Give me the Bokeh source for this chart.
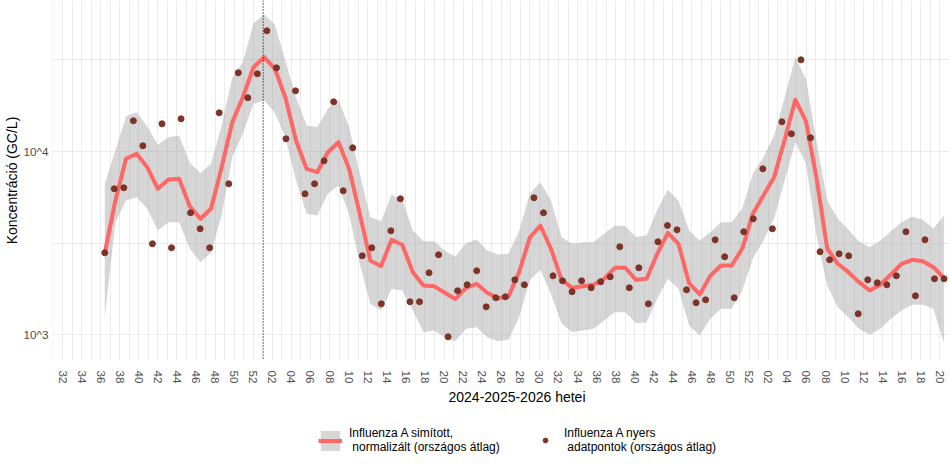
import math
import numpy as np
from bokeh.plotting import figure
from bokeh.layouts import column
from bokeh.models import FixedTicker, Legend, LegendItem, Span, Title, Range1d
from bokeh.embed import file_html
from bokeh.resources import INLINE

# ---------------- data ----------------
# x tick labels (ISO weeks, every 2nd week from 2024-W32 to 2026-W20)
tick_labels = ["32", "34", "36", "38", "40", "42", "44", "46", "48", "50", "52",
               "02", "04", "06", "08", "10", "12", "14", "16", "18", "20", "22", "24", "26",
               "28", "30", "32", "34", "36", "38", "40", "42", "44", "46", "48", "50", "52",
               "02", "04", "06", "08", "10", "12", "14", "16", "18", "20"]

# raw weekly measurements (GC/L), from 2024-W36 to 2026-W20
raw_values = [2801, 6259, 6339, 14710, 10742, 3137, 14164, 2983, 15080, 4630,
              3786, 2983, 16260, 6664, 26880, 19640, 26540, 45540, 28610, 11730,
              21440, 5876, 6664, 8898, 18670, 6104, 10476, 2698, 2983, 1476,
              3693, 5521, 1514, 1514, 2179, 2732, 975, 1738, 1874, 2235,
              1421, 1592, 1612, 1995, 1874, 5590, 4630, 2098, 1970, 1717,
              1970, 1805, 1946, 2072, 3020, 1805, 2320, 1476, 3217, 3947,
              3740, 1760, 1495, 1552, 3298, 2665, 1592, 3647, 4294, 8044,
              3786, 14520, 12490, 31650, 11880, 2837, 2566, 2766, 2698, 1302,
              1995, 1922, 1874, 2098, 3647, 1632, 3298, 2021, 2021]

# smoothed curve (80 evaluation points) with confidence band
smooth_values = [2801, 5404, 9125, 9716, 8210, 6259, 7036, 7099, 5030, 4294,
                 4868, 8210, 14450, 19790, 28830, 32690, 28360, 19710, 11480, 8044,
                 7709, 9913, 11240, 8044, 4572, 2543, 2367, 3298, 3097, 2196,
                 1858, 1842, 1695, 1568, 1805, 1897, 1695, 1584, 1618, 2196,
                 3382, 3947, 2946, 1995, 1805, 1842, 1874, 2021, 2320, 2320,
                 1995, 2021, 2766, 3602, 3137, 1912, 1659, 2098, 2388, 2388,
                 2946, 4572, 5754, 7240, 11580, 19150, 14630, 7124, 2957, 2440,
                 2196, 1936, 1745, 1874, 2133, 2440, 2566, 2520, 2338, 2036]

upper_values = [6664, 10130, 15520, 16390, 13690, 10880, 11970, 12230, 8678, 7612,
                8569, 13860, 25240, 30700, 50120, 55890, 49310, 31370, 19790, 13860,
                13570, 17100, 19150, 13570, 7554, 4382, 4166, 5805, 5452, 3707,
                3240, 3240, 2883, 2665, 3160, 3311, 2883, 2742, 2766, 3675,
                5876, 6799, 5404, 3408, 3137, 3201, 3201, 3556, 3947, 3913,
                3424, 3480, 4807, 6182, 5404, 3707, 3269, 3628, 4115, 4115,
                4868, 7554, 9309, 12230, 19790, 32690, 24920, 11340, 5404, 4294,
                3740, 3240, 3005, 3269, 3675, 4115, 4420, 4241, 3786, 4475]

lower_values = [1247, 4100, 5404, 5632, 4868, 3707, 4115, 4115, 2946, 2489,
                2801, 4475, 9309, 12490, 18210, 18980, 16320, 11970, 6949, 4572,
                4475, 5876, 6523, 4572, 2440, 1476, 1357, 1782, 1745, 1357,
                1033, 1056, 970, 923, 1078, 1100, 970, 923, 939, 1247,
                1978, 2263, 1674, 1148, 1033, 1056, 1078, 1197, 1328, 1328,
                1157, 1171, 1572, 2021, 1782, 1124, 991, 1223, 1386, 1386,
                1745, 2598, 3269, 4294, 6949, 11240, 8569, 3480, 1858, 1414,
                1247, 1078, 1000, 1078, 1223, 1357, 1458, 1458, 1386, 900]

# x axis: week index, 0 = 2024-W32 (Monday)
first_point_week = 4          # 2024-W36
day_offset = 3 / 7            # samples plotted mid-week
season_marker = 21.05         # turn of the year (dotted line)

series_labels = ["Influenza A simított,\n normalizált (országos átlag)",
                 "Influenza A nyers\n adatpontok (országos átlag)"]

# ---------------- positions ----------------
tick_positions = list(range(0, 2 * len(tick_labels), 2))
point_x = [first_point_week + day_offset + k for k in range(len(raw_values))]
smooth_x = list(np.linspace(point_x[0], point_x[-1], len(smooth_values)))

FONT = "Liberation Sans"
BAND = dict(fill_color="#999999", fill_alpha=0.4)
LINE = dict(line_color="#FF6666", line_width=4)
PTS = dict(fill_color="#7E3328", line_color="#7E3328")

p = figure(width=949, height=410, output_backend="svg", toolbar_location=None,
           y_axis_type="log",
           x_range=Range1d(-1.05, 93.0), y_range=Range1d(724, 66650),
           min_border_left=52, min_border_right=0, min_border_top=0,
           min_border_bottom=50)
p.outline_line_color = None
p.background_fill_color = "white"
p.border_fill_color = "white"

# grid
p.xgrid.ticker = FixedTicker(ticks=list(range(-1, 94)))
p.ygrid.ticker = FixedTicker(ticks=[10 ** 3, 10 ** 3.5, 10 ** 4, 10 ** 4.5])
for g in (p.xgrid, p.ygrid):
    g.grid_line_color = "#EBEBEB"
    g.grid_line_width = 1

# glyphs
p.varea(x=smooth_x, y1=lower_values, y2=upper_values, **BAND)
p.line(smooth_x, smooth_values, line_join="round", line_cap="round", **LINE)
p.scatter(point_x, raw_values, size=6, **PTS)

p.add_layout(Span(location=season_marker, dimension="height",
                  line_color="black", line_width=1, line_dash="1 2"))

# axes
xa = p.xaxis[0]
xa.ticker = FixedTicker(ticks=tick_positions)
xa.major_label_overrides = {t: l for t, l in zip(tick_positions, tick_labels)}
xa.major_label_orientation = -math.pi / 2
xa.major_label_standoff = 10
xa.major_label_text_font = FONT
xa.major_label_text_font_size = "11.7px"
xa.major_label_text_color = "#4D4D4D"
xa.major_tick_line_color = None
xa.minor_tick_line_color = None
xa.major_tick_out = 0
xa.major_tick_in = 0
xa.minor_tick_out = 0
xa.axis_line_color = None

ya = p.yaxis[0]
ya.ticker = FixedTicker(ticks=[1000, 10000])
ya.major_label_overrides = {1000: "10^3", 10000: "10^4"}
ya.major_label_standoff = 4
ya.major_label_text_font = FONT
ya.major_label_text_font_size = "11.7px"
ya.major_label_text_color = "#4D4D4D"
ya.major_tick_line_color = None
ya.minor_tick_line_color = None
ya.major_tick_out = 0
ya.major_tick_in = 0
ya.minor_tick_out = 0
ya.axis_line_color = None
ya.axis_label = "Koncentráció (GC/L)"
ya.axis_label_text_font = FONT
ya.axis_label_text_font_size = "14px"
ya.axis_label_text_font_style = "normal"
ya.axis_label_text_color = "black"
ya.axis_label_standoff = 1

# x axis title (the reference centres it right of the visible panel centre)
xt = Title(text="2024-2025-2026 hetei", align="left", offset=396,
           text_font=FONT, text_font_size="14px", text_font_style="normal",
           text_color="black", standoff=0)
p.add_layout(xt, "below")

# ---------------- legend strip ----------------
lg = figure(width=949, height=54, output_backend="svg", toolbar_location=None,
            x_range=Range1d(0, 1), y_range=Range1d(0, 1),
            min_border=0, x_axis_type=None, y_axis_type=None)
lg.outline_line_color = None
lg.grid.visible = False
nan = float("nan")
kb = lg.varea(x=[nan], y1=[nan], y2=[nan], **BAND)
kl = lg.line(x=[nan], y=[nan], **LINE)
kp = lg.scatter(x=[nan], y=[nan], size=6, **PTS)


def style(leg, gw, gh, standoff):
    leg.border_line_color = None
    leg.background_fill_alpha = 0
    leg.padding = 0
    leg.margin = 0
    leg.glyph_width = gw
    leg.glyph_height = gh
    leg.label_standoff = standoff
    leg.label_text_font = FONT
    leg.label_text_font_size = "12px"
    leg.label_text_line_height = 1.1
    leg.label_text_color = "black"


leg1 = Legend(items=[LegendItem(label=series_labels[0], renderers=[kb, kl])],
              location=(266, 10))
style(leg1, 24, 25, 7)
leg2 = Legend(items=[LegendItem(label=series_labels[1], renderers=[kp])],
              location=(487, 10))
style(leg2, 12, 12, 13)
lg.add_layout(leg1, "center")
lg.add_layout(leg2, "center")

open("out.html", "w").write(file_html(column(p, lg, spacing=0), INLINE))
